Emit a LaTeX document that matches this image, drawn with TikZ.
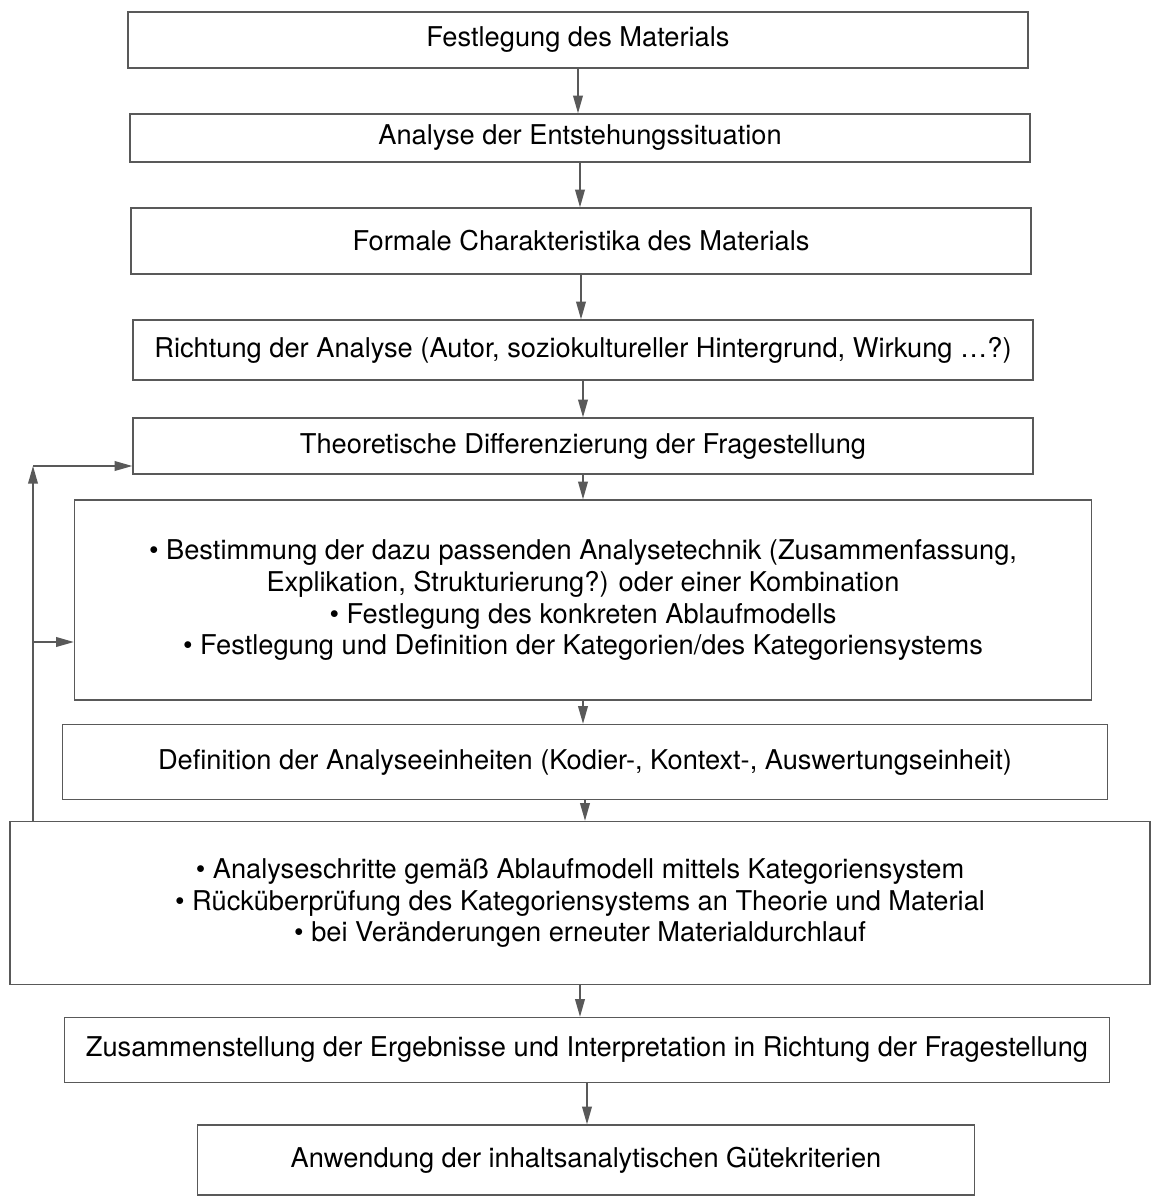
\documentclass[tikz,border=0pt]{standalone}
\usepackage{fontspec}
\setmainfont{TeX Gyre Heros}
\usetikzlibrary{arrows.meta}
\definecolor{linegray}{gray}{0.35}

\begin{document}
\begin{tikzpicture}[
    stage/.style={draw=linegray, line width=0.8pt, align=center, inner sep=0pt,
      font=\fontsize{15.5}{18.2}\selectfont},
    flow/.style={draw=linegray, line width=0.8pt, -{Triangle[length=10pt,width=5.5pt]}}
  ]

  \useasboundingbox (0,0) rectangle (23.06,-24.04);

  \newcommand\W{18cm};

  \node[stage, minimum width=\W, minimum height=1.12cm] (material) at (11.56,-0.80) {Festlegung des Materials};
  \node[stage, minimum width=\W, minimum height=0.96cm] (situation) at (11.60,-2.76) {Analyse der Entstehungssituation};
  \node[stage, minimum width=\W, minimum height=1.32cm] (formal) at (11.62,-4.82) {Formale Charakteristika des Materials};
  \node[stage, minimum width=\W, minimum height=1.20cm] (richtung) at (11.66,-7.00) {Richtung der Analyse (Autor, soziokultureller Hintergrund, Wirkung \dots?)};
  \node[stage, minimum width=\W, minimum height=1.12cm] (theorie) at (11.66,-8.92) {Theoretische Differenzierung der Fragestellung};

  \node[stage, minimum width=20.34cm, minimum height=4.0cm] (technik) at (11.66,-12.00)
    {\textbullet\ Bestimmung der dazu passenden Analysetechnik (Zusammenfassung,\\
     Explikation, Strukturierung?) oder einer Kombination\\
     \textbullet\ Festlegung des konkreten Ablaufmodells\\
     \textbullet\ Festlegung und Definition der Kategorien/des Kategoriensystems};

  \node[stage, minimum width=20.9cm, minimum height=1.5cm] (einheiten) at (11.70,-15.24) {Definition der Analyseeinheiten (Kodier-, Kontext-, Auswertungseinheit)};

  \node[stage, minimum width=22.8cm, minimum height=3.26cm] (schritte) at (11.60,-18.06)
    {\textbullet\ Analyseschritte gemäß Ablaufmodell mittels Kategoriensystem\\
     \textbullet\ Rücküberprüfung des Kategoriensystems an Theorie und Material\\
     \textbullet\ bei Veränderungen erneuter Materialdurchlauf};

  \node[stage, minimum width=20.9cm, minimum height=1.3cm] (ergebnisse) at (11.74,-21.00) {Zusammenstellung der Ergebnisse und Interpretation in Richtung der Fragestellung};
  \node[stage, minimum width=15.54cm, minimum height=1.4cm] (guete) at (11.72,-23.20) {Anwendung der inhaltsanalytischen Gütekriterien};

  %% main flow
  \draw[flow] (material.south) -- (material.south |- situation.north);
  \draw[flow] (situation.south) -- (situation.south |- formal.north);
  \draw[flow] (formal.south) -- (formal.south |- richtung.north);
  \draw[flow] (richtung.south) -- (richtung.south |- theorie.north);
  \draw[flow] (theorie.south) -- (theorie.south |- technik.north);
  \draw[flow] (technik.south) -- (technik.south |- einheiten.north);
  \draw[flow] (einheiten.south) -- (einheiten.south |- schritte.north);
  \draw[flow] (schritte.south) -- (schritte.south |- ergebnisse.north);
  \draw[flow] (ergebnisse.south) -- (ergebnisse.south |- guete.north);

  %% feedback loop
  \coordinate (loopstart) at (0.66,-16.43);
  \coordinate (loopcorner) at (0.66,-9.32);
  \coordinate (loopbranch) at (0.66,-12.84);
  \draw[flow] (loopstart) -- (loopcorner);
  \draw[flow] (loopcorner) -- (loopcorner -| theorie.west);
  \draw[flow] (loopbranch) -- (loopbranch -| technik.west);
\end{tikzpicture}
\end{document}
